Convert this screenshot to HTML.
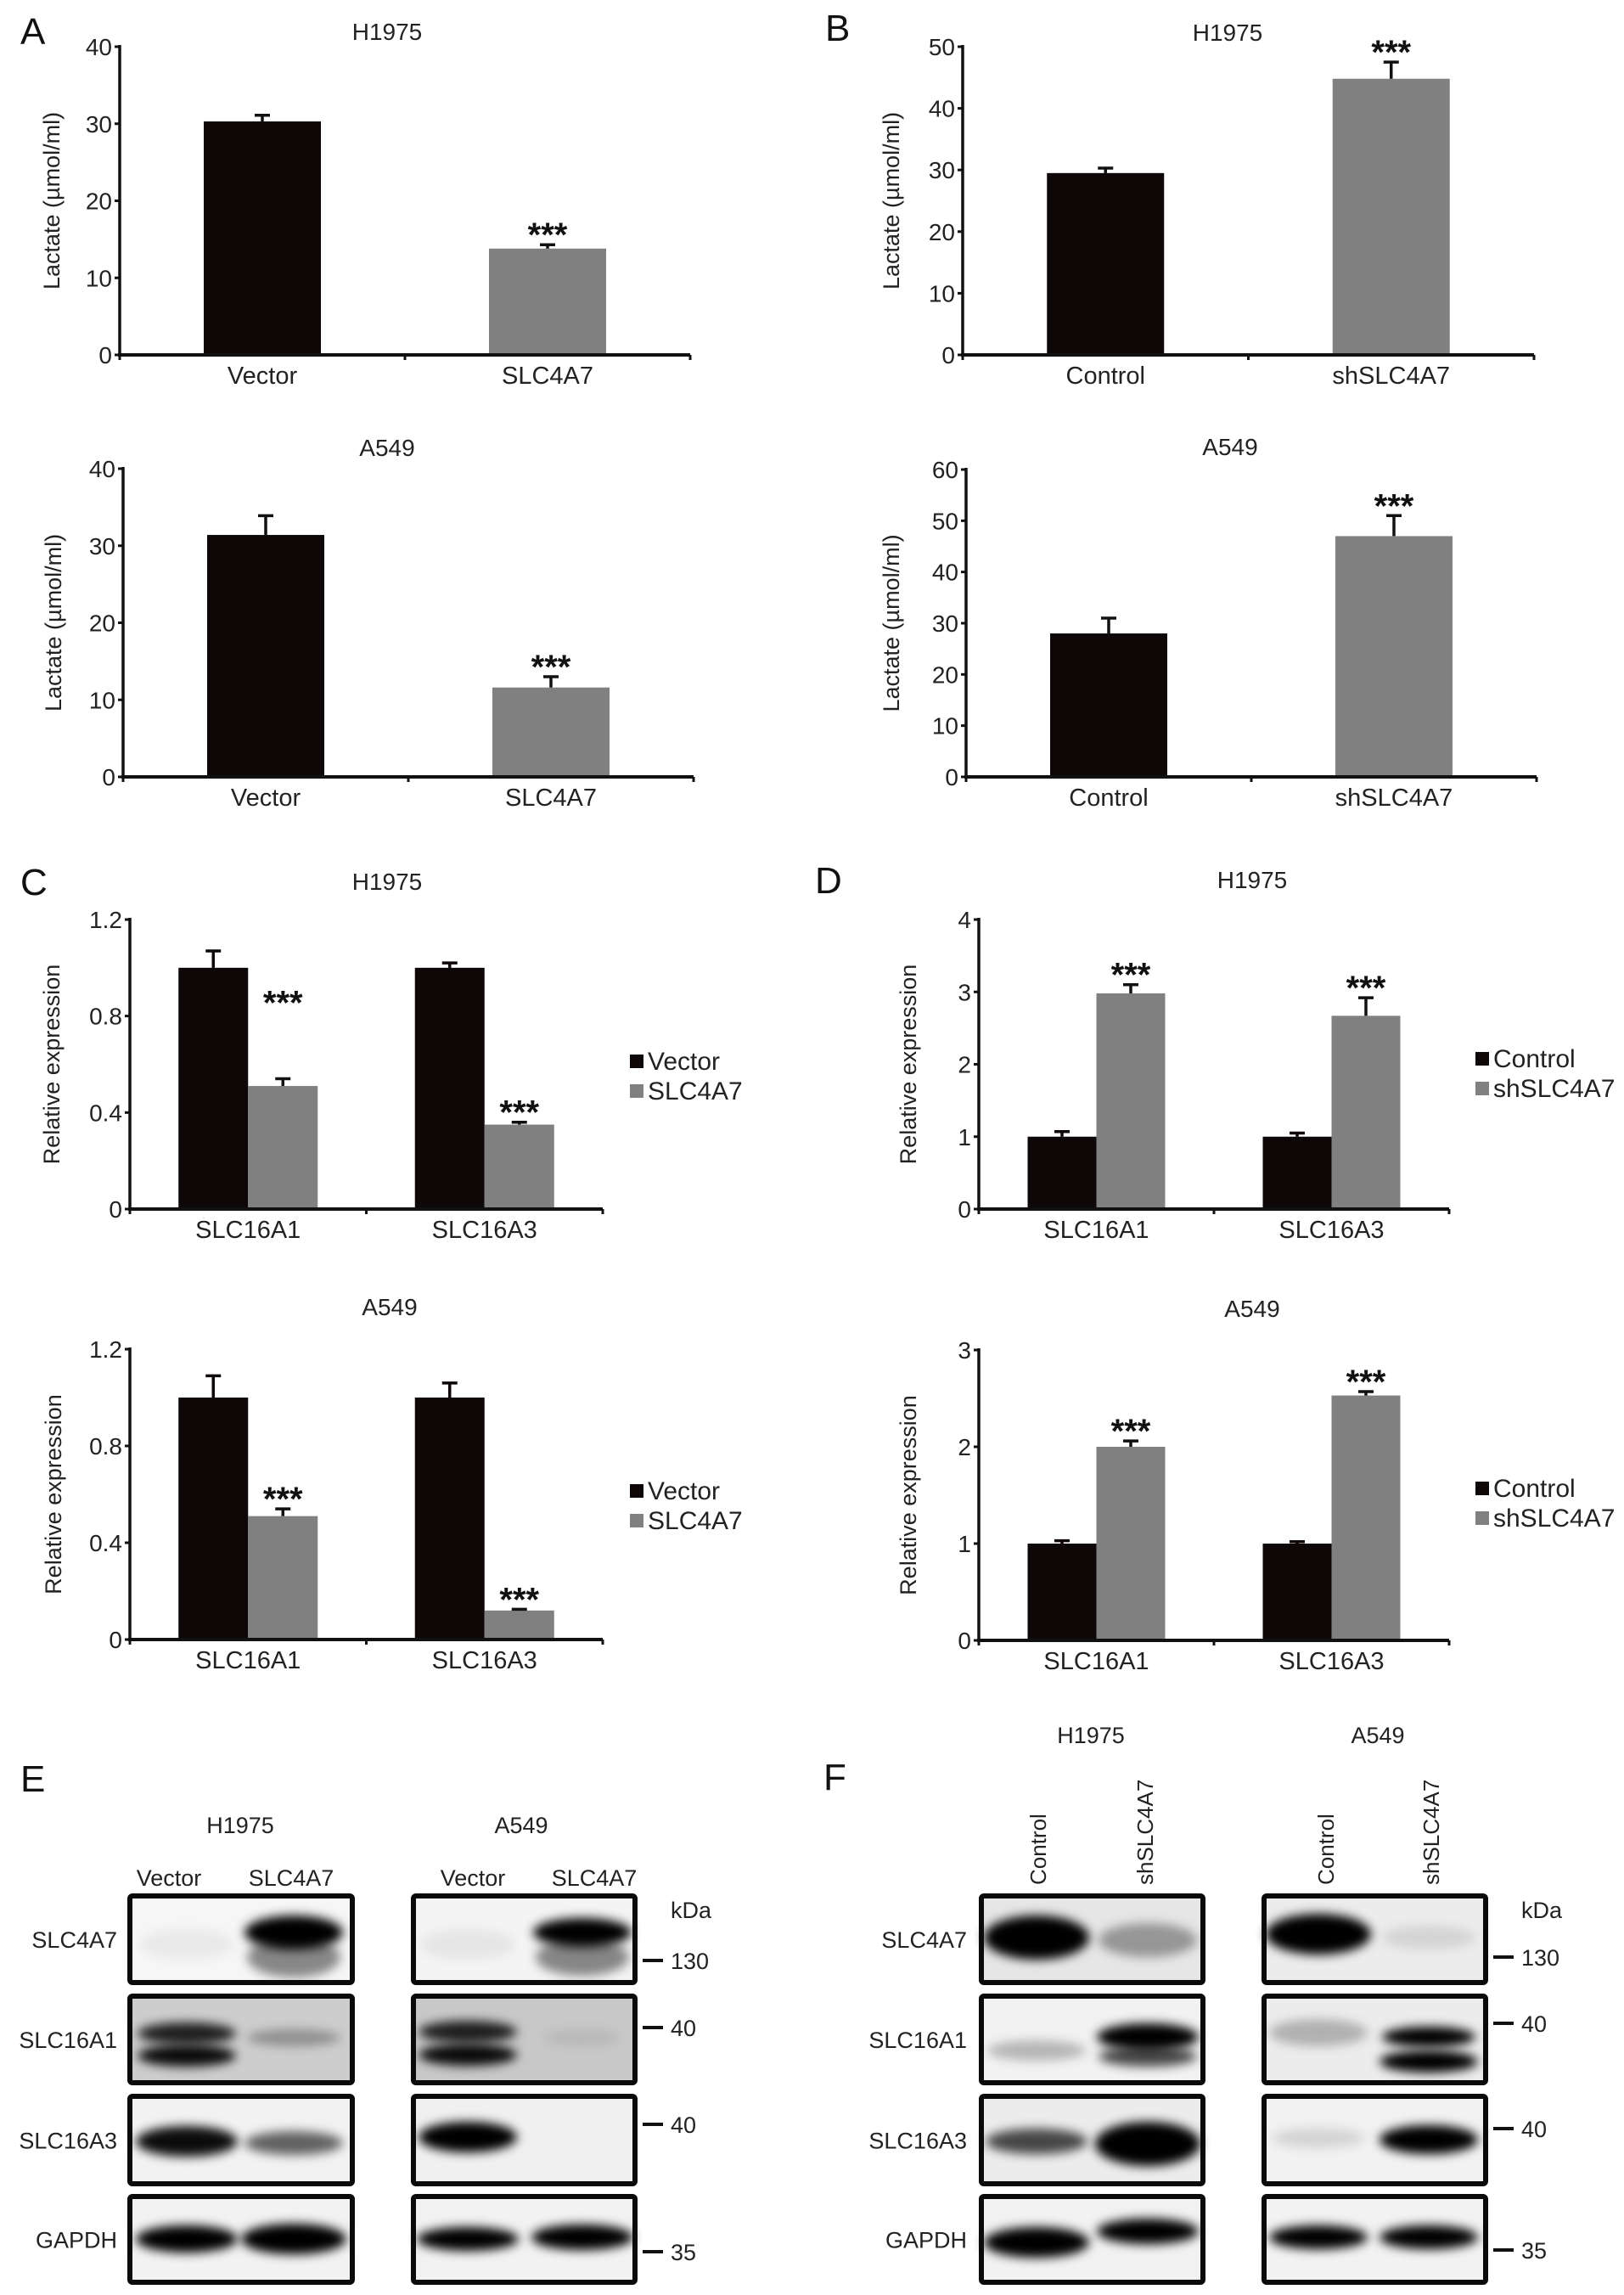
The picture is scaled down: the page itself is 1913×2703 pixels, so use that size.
<!DOCTYPE html>
<html><head><meta charset="utf-8"><style>
html,body{margin:0;padding:0;background:#fff;}
svg{display:block;font-family:"Liberation Sans",Arial,sans-serif;}
</style></head><body>
<svg id="fig" width="1913" height="2703" viewBox="0 0 1913 2703" xmlns="http://www.w3.org/2000/svg">
<defs><filter id="blur" x="-30%" y="-80%" width="160%" height="260%"><feGaussianBlur stdDeviation="6"/></filter></defs>
</svg>
<script>
// ---- chart data ----
const aCats = ["Vector", "SLC4A7"];
const bCats = ["Control", "shSLC4A7"];
const geneCats = ["SLC16A1", "SLC16A3"];
const aTopVals = [30.3, 13.8];
const aTopErr = [0.8, 0.5];
const aBotVals = [31.4, 11.6];
const aBotErr = [2.5, 1.4];
const bTopVals = [29.5, 44.8];
const bTopErr = [0.8, 2.7];
const bBotVals = [28.0, 47.0];
const bBotErr = [3.0, 4.0];
const cTopVector = [1.0, 1.0];
const cTopVectorErr = [0.07, 0.02];
const cTopSlc = [0.51, 0.35];
const cTopSlcErr = [0.03, 0.01];
const cBotVector = [1.0, 1.0];
const cBotVectorErr = [0.09, 0.06];
const cBotSlc = [0.51, 0.12];
const cBotSlcErr = [0.03, 0.005];
const dTopControl = [1.0, 1.0];
const dTopControlErr = [0.07, 0.05];
const dTopSh = [2.98, 2.67];
const dTopShErr = [0.12, 0.25];
const dBotControl = [1.0, 1.0];
const dBotControlErr = [0.03, 0.02];
const dBotSh = [2.0, 2.53];
const dBotShErr = [0.06, 0.04];
const ticks40 = [0, 10, 20, 30, 40];
const ticks50 = [0, 10, 20, 30, 40, 50];
const ticks60 = [0, 10, 20, 30, 40, 50, 60];
const ticks12 = [0, 0.4, 0.8, 1.2];
const tickLabels12 = ["0", "0.4", "0.8", "1.2"];
const ticks4 = [0, 1, 2, 3, 4];
const ticks3 = [0, 1, 2, 3];

const NS = "http://www.w3.org/2000/svg";
const svg = document.getElementById("fig");
function mk(tag, attrs, parent) {
  const e = document.createElementNS(NS, tag);
  for (const k in attrs) e.setAttribute(k, attrs[k]);
  (parent || svg).appendChild(e);
  return e;
}
function txt(str, x, y, size, anchor, parent, extra) {
  const t = mk("text", Object.assign({x: x, y: y, "font-size": size, "text-anchor": anchor || "middle", fill: "#222"}, extra || {}), parent);
  t.textContent = str;
  return t;
}
const BLACK = "#0d0708", GRAY = "#808080";
const TICK_FS = 28, TITLE_FS = 28, YT_FS = 27, CAT_FS = 29, LEG_FS = 30, STAR_FS = 40;

function chart(cfg) {
  const g = mk("g", {});
  
  
  const yScale = v => cfg.y0 - (v / cfg.ymax) * (cfg.y0 - cfg.ytop);
  const band = (cfg.x1 - cfg.x0) / cfg.cats.length;
  const xCenter = i => cfg.x0 + band * (i + 0.5);
  const t = txt(cfg.title, cfg.titleX, cfg.titleY, TITLE_FS, "middle", g);
  
  
  const ya = mk("line", {x1: cfg.x0, y1: cfg.ytop - 2, x2: cfg.x0, y2: cfg.y0 + 2, stroke: "#111", "stroke-width": 3.5}, g);
  
  
  cfg.ticks.forEach((v, i) => {
    const y = yScale(v);
    const tk = mk("line", {x1: cfg.x0 - 6, y1: y, x2: cfg.x0, y2: y, stroke: "#111", "stroke-width": 3}, g);
    
    
    const lb = txt(cfg.tickLabels ? cfg.tickLabels[i] : String(v), cfg.x0 - 9, y + 10, TICK_FS, "end", g);
    
    
  });
  const yt = txt(cfg.ytitle, 0, 0, YT_FS, "middle", g, {transform: "translate(" + cfg.ytitleX + "," + ((cfg.ytop + cfg.y0) / 2) + ") rotate(-90)"});
  
  
  cfg.series.forEach((s, si) => {
    s.vals.forEach((v, i) => {
      const c = xCenter(i);
      const xl = cfg.series.length === 1 ? c - cfg.bw / 2 : (si === 0 ? c - cfg.bw : c);
      const yv = yScale(v);
      const r = mk("rect", {x: xl, y: yv, width: cfg.bw, height: cfg.y0 - yv, fill: s.color}, g);
      
      
      const ye = yScale(v + s.err[i]);
      const ex = xl + cfg.bw / 2;
      const el = mk("path", {d: "M" + ex + "," + yv + "V" + ye + "M" + (ex - 9) + "," + ye + "H" + (ex + 9), stroke: s.color === GRAY ? "#111" : BLACK, "stroke-width": 3.5, fill: "none"}, g);
      
      
      if (s.stars) {
        const off = (s.starOff && s.starOff[i]) || 0;
        const st = txt("***", ex, ye + 2 - off, STAR_FS, "middle", g, {"font-weight": "bold", fill: "#111"});
        
        
      }
    });
  });
  const xa = mk("line", {x1: cfg.x0 - 2, y1: cfg.y0, x2: cfg.x1, y2: cfg.y0, stroke: "#111", "stroke-width": 4}, g);
  
  
  for (let i = 0; i <= cfg.cats.length; i++) {
    const xx = cfg.x0 + band * i;
    const tk = mk("line", {x1: xx, y1: cfg.y0, x2: xx, y2: cfg.y0 + 6, stroke: "#111", "stroke-width": 3}, g);
    
    
  }
  cfg.cats.forEach((c, i) => {
    const l = txt(c, xCenter(i), cfg.y0 + 34, CAT_FS, "middle", g);
    
    
  });
  if (cfg.legendX) {
    cfg.series.forEach((s, si) => {
      const ly = cfg.legendY + si * 35;
      const sq = mk("rect", {x: cfg.legendX, y: ly - 8, width: 16, height: 16, fill: s.color}, g);
      
      
      const lt = txt(s.label, cfg.legendX + 21, ly + 10, LEG_FS, "start", g);
      
      
    });
  }
}

const LAC = "Lactate (\u00b5mol/ml)", REL = "Relative expression";
function twoColor(name, title, tx, ty, x0, x1, ytop, y0, ymax, ticks, ytx, cats, vals, err) {
  const band = (x1 - x0) / 2;
  chart({name: name, title: title, titleX: tx, titleY: ty, x0: x0, x1: x1, ytop: ytop, y0: y0, ymax: ymax, ticks: ticks, ytitle: LAC, ytitleX: ytx, cats: cats, bw: 138, series: []});
  const yScale = v => y0 - (v / ymax) * (y0 - ytop);
  vals.forEach((v, i) => {
    const c = x0 + band * (i + 0.5);
    const col = i === 0 ? BLACK : GRAY;
    const yv = yScale(v);
    const r = mk("rect", {x: c - 69, y: yv, width: 138, height: y0 - yv, fill: col});
    
    
    const ye = yScale(v + err[i]);
    const el = mk("path", {d: "M" + c + "," + yv + "V" + ye + "M" + (c - 9) + "," + ye + "H" + (c + 9), stroke: "#111", "stroke-width": 3.5, fill: "none"});
    
    
    if (i === 1) {
      const st = txt("***", c, ye + 2, STAR_FS, "middle", null, {"font-weight": "bold", fill: "#111"});
      
      
    }
  });
  const xa = mk("line", {x1: x0 - 2, y1: y0, x2: x1, y2: y0, stroke: "#111", "stroke-width": 4});
  
  
}
twoColor("chart-a-h1975", "H1975", 456, 47, 141, 813, 55, 418, 40, ticks40, 70, aCats, aTopVals, aTopErr);
twoColor("chart-a-a549", "A549", 456, 537, 145, 817, 552, 915, 40, ticks40, 72, aCats, aBotVals, aBotErr);
twoColor("chart-b-h1975", "H1975", 1446, 48, 1134, 1807, 55, 418, 50, ticks50, 1059, bCats, bTopVals, bTopErr);
twoColor("chart-b-a549", "A549", 1449, 536, 1138, 1810, 553, 915, 60, ticks60, 1059, bCats, bBotVals, bBotErr);

chart({name: "chart-c-h1975", title: "H1975", titleX: 456, titleY: 1048, x0: 153, x1: 710, ytop: 1083, y0: 1424, ymax: 1.2, ticks: ticks12, tickLabels: tickLabels12, ytitle: REL, ytitleX: 70, cats: geneCats, bw: 82, legendX: 742, legendY: 1250,
  series: [{label: "Vector", color: BLACK, vals: cTopVector, err: cTopVectorErr},
           {label: "SLC4A7", color: GRAY, vals: cTopSlc, err: cTopSlcErr, stars: true, starOff: [78, 0]}]});
chart({name: "chart-c-a549", title: "A549", titleX: 459, titleY: 1549, x0: 153, x1: 710, ytop: 1589, y0: 1931, ymax: 1.2, ticks: ticks12, tickLabels: tickLabels12, ytitle: REL, ytitleX: 72, cats: geneCats, bw: 82, legendX: 742, legendY: 1756,
  series: [{label: "Vector", color: BLACK, vals: cBotVector, err: cBotVectorErr},
           {label: "SLC4A7", color: GRAY, vals: cBotSlc, err: cBotSlcErr, stars: true}]});
chart({name: "chart-d-h1975", title: "H1975", titleX: 1475, titleY: 1046, x0: 1153, x1: 1707, ytop: 1083, y0: 1424, ymax: 4, ticks: ticks4, ytitle: REL, ytitleX: 1079, cats: geneCats, bw: 81, legendX: 1738, legendY: 1247,
  series: [{label: "Control", color: BLACK, vals: dTopControl, err: dTopControlErr},
           {label: "shSLC4A7", color: GRAY, vals: dTopSh, err: dTopShErr, stars: true}]});
chart({name: "chart-d-a549", title: "A549", titleX: 1475, titleY: 1551, x0: 1153, x1: 1707, ytop: 1590, y0: 1932, ymax: 3, ticks: ticks3, ytitle: REL, ytitleX: 1079, cats: geneCats, bw: 81, legendX: 1738, legendY: 1753,
  series: [{label: "Control", color: BLACK, vals: dBotControl, err: dBotControlErr},
           {label: "shSLC4A7", color: GRAY, vals: dBotSh, err: dBotShErr, stars: true}]});

[["A", 24, 52], ["B", 972, 48], ["C", 24, 1054], ["D", 960, 1052], ["E", 24, 2110], ["F", 970, 2108]].forEach(p => {
  const l = txt(p[0], p[1], p[2], 44, "start", null, {fill: "#111"});
  
  
});

// ---- western blots ----
const rows = [[2233, 2335], [2351, 2453], [2469, 2572], [2587, 2688]];
const rowNames = ["SLC4A7", "SLC16A1", "SLC16A3", "GAPDH"];
function blot(name, boxes, labelRight, bgs, bands) {
  const g = mk("g", {});
  
  
  rows.forEach((r, ri) => {
    const lb = txt(rowNames[ri], labelRight, (r[0] + r[1]) / 2 + 10, 27, "end", g, {fill: "#222"});
    
    
    boxes.forEach((b, bi) => {
      const bg = mk("rect", {x: b[0], y: r[0], width: b[1] - b[0], height: r[1] - r[0], fill: bgs[bi][ri]}, g);
      
      
    });
  });
  bands.forEach(bd => {
    const e = mk("ellipse", {cx: bd[0], cy: bd[1], rx: bd[2], ry: bd[3], fill: "#000", "fill-opacity": bd[4], filter: "url(#blur)"}, g);
    
    
  });
  rows.forEach(r => boxes.forEach(b => {
    const fr = mk("rect", {x: b[0], y: r[0], width: b[1] - b[0], height: r[1] - r[0], fill: "none", stroke: "#0a0a0a", "stroke-width": 6, rx: 3}, g);
    
    
  }));
}
blot("blot-e", [[153, 415], [487, 748]], 138,
  [["#f6f6f6", "#cdcdcd", "#f2f2f2", "#f2f2f2"], ["#f4f4f4", "#c8c8c8", "#f0f0f0", "#f2f2f2"]],
  [[346, 2276, 58, 20, 1], [346, 2305, 55, 24, 0.45], [220, 2290, 55, 18, 0.05],
   [220, 2395, 58, 13, 0.85], [220, 2421, 58, 13, 0.95], [346, 2400, 55, 10, 0.3],
   [220, 2522, 60, 18, 0.95], [346, 2524, 58, 14, 0.6],
   [220, 2637, 60, 16, 1], [346, 2637, 62, 18, 1],
   [686, 2276, 58, 17, 1], [686, 2305, 55, 22, 0.45], [551, 2290, 55, 18, 0.06],
   [551, 2393, 58, 13, 0.85], [551, 2420, 58, 13, 0.95], [686, 2400, 45, 10, 0.08],
   [551, 2517, 58, 18, 1],
   [551, 2637, 60, 14, 1], [686, 2635, 60, 15, 1]]);
blot("blot-f", [[1156, 1417], [1489, 1750]], 1139,
  [["#e6e6e6", "#f2f2f2", "#ececec", "#f2f2f2"], ["#ececec", "#ececec", "#f2f2f2", "#f2f2f2"]],
  [[1221, 2282, 62, 26, 1], [1352, 2285, 58, 20, 0.35],
   [1221, 2415, 58, 12, 0.25], [1352, 2399, 60, 16, 1], [1352, 2422, 58, 12, 0.7],
   [1221, 2522, 60, 15, 0.7], [1352, 2525, 62, 26, 1],
   [1221, 2641, 62, 18, 1], [1352, 2628, 60, 15, 1],
   [1553, 2278, 62, 24, 1], [1683, 2282, 55, 14, 0.1],
   [1553, 2394, 58, 16, 0.25], [1683, 2399, 55, 12, 1], [1683, 2428, 58, 13, 1],
   [1553, 2518, 55, 12, 0.12], [1683, 2520, 58, 17, 1],
   [1553, 2635, 58, 14, 1], [1683, 2635, 58, 14, 1]]);

[["H1975", 283, 2159], ["A549", 614, 2159], ["H1975", 1285, 2053], ["A549", 1623, 2053]].forEach(h => {
  const t = txt(h[0], h[1], h[2], 27, "middle");
  
  
});
[["Vector", 199], ["SLC4A7", 343], ["Vector", 557], ["SLC4A7", 700]].forEach(l => {
  const t = txt(l[0], l[1], 2221, 27, "middle");
  
  
});
[["Control", 1223], ["shSLC4A7", 1349], ["Control", 1562], ["shSLC4A7", 1686]].forEach(l => {
  const t = txt(l[0], 0, 0, 26, "start", null, {transform: "translate(" + (l[1] + 9) + ",2220) rotate(-90)"});
  
  
});
function markers(dashX, items) {
  items.forEach(m => {
    if (m[0] !== "kDa") {
      const d = mk("line", {x1: dashX, y1: m[1], x2: dashX + 24, y2: m[1], stroke: "#111", "stroke-width": 4});
      
      
    }
    const t = txt(m[0], dashX + 33, m[1] + 10, 27, "start");
    
    
  });
}
markers(757, [["kDa", 2249], ["130", 2309], ["40", 2388], ["40", 2502], ["35", 2652]]);
markers(1759, [["kDa", 2249], ["130", 2305], ["40", 2383], ["40", 2507], ["35", 2650]]);
</script>
</body></html>
